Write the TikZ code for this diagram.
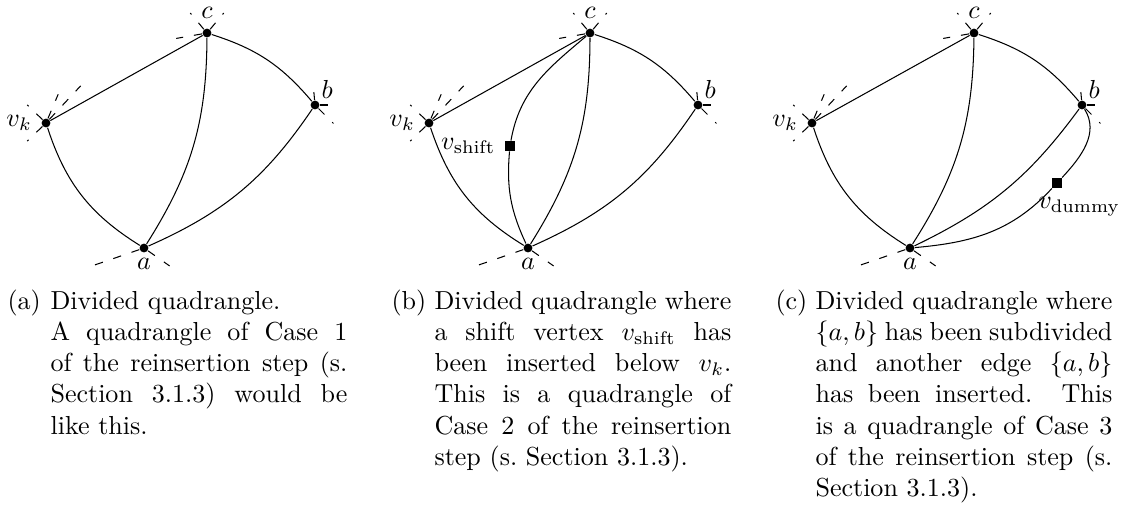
\documentclass[tikz,border=0pt]{standalone}
\usepackage{amsmath}
\usepackage{tikz}
\tikzset{
    quadvertex/.style={circle, fill=black, inner sep=0pt, minimum size=3.4pt},
    quaddummy/.style={rectangle, fill=black, inner sep=0pt, minimum size=3.8pt},
    quadstub/.style={dash pattern=on 3.2pt off 4.2pt},
    quadcaption/.style={anchor=base west, inner sep=0pt}
}

\begin{document}
\begin{tikzpicture}[x=0.384pt, y=-0.384pt]
    \useasboundingbox (0,0) rectangle (1128,509);

    % (a) divided quadrangle
    \node[quadvertex, label=left:$v_k$] (vk1) at (46,123) {};
    \node[quadvertex, label=above:$c$] (c1) at (207,33) {};
    \node[quadvertex, label={[inner sep=1pt]45:$b$}] (b1) at (315,105) {};
    \node[quadvertex, label={[label distance=-1.5pt]below:$a$}] (a1) at (144,248) {};

    \draw (vk1) -- (c1);
    \draw (vk1) to[bend right=20] (a1);
    \draw (c1) to[bend left=16] (a1);
    \draw (c1) to[bend left=16] (b1);
    \draw (a1) to[bend right=16] (b1);

    \draw[quadstub] (c1) -- ++(130:10pt);
    \draw[quadstub] (c1) -- ++(50:10pt);
    \draw[quadstub] (c1) -- ++(190:12pt);
    \draw[quadstub] (vk1) -- ++(136:10pt);
    \draw[quadstub] (vk1) -- ++(224:10pt);
    \draw[quadstub] (vk1) -- ++(67:12pt);
    \draw[quadstub] (vk1) -- ++(47:19.5pt);
    \draw[quadstub] (b1) -- ++(95:5pt);
    \draw[quadstub] (b1) -- ++(0:5pt);
    \draw[quadstub] (b1) -- ++(-45:10pt);
    \draw[quadstub] (a1) -- ++(199:20pt);
    \draw[quadstub] (a1) -- ++(-35:12pt);

    \node[quadcaption] (capa) at (7,309) {(a)};
    \node[quadcaption] (texta) at (50,309) {\parbox[t]{114pt}{Divided quadrangle.\\
        A quadrangle of Case 1\linebreak of the reinsertion step (s.\linebreak
        Section~3.1.3) would be\linebreak like this.}};

    % (b) with shift vertex
    \node[quadvertex, label=left:$v_k$] (vk2) at (429,123) {};
    \node[quadvertex, label=above:$c$] (c2) at (590,33) {};
    \node[quadvertex, label={[inner sep=1pt]45:$b$}] (b2) at (698,105) {};
    \node[quadvertex, label={[label distance=-1.5pt]below:$a$}] (a2) at (528,248) {};
    \node[quaddummy, label=left:$v_{\text{shift}}$] (shift2) at (510,146) {};

    \draw (vk2) -- (c2);
    \draw (vk2) to[bend right=20] (a2);
    \draw (c2) to[bend left=16] (a2);
    \draw (c2) to[bend left=16] (b2);
    \draw (a2) to[bend right=16] (b2);
    \draw (c2) to[out=-140, in=80] (shift2);
    \draw (shift2) to[out=-95, in=115] (a2);

    \draw[quadstub] (c2) -- ++(130:10pt);
    \draw[quadstub] (c2) -- ++(50:10pt);
    \draw[quadstub] (c2) -- ++(190:12pt);
    \draw[quadstub] (vk2) -- ++(136:10pt);
    \draw[quadstub] (vk2) -- ++(224:10pt);
    \draw[quadstub] (vk2) -- ++(67:12pt);
    \draw[quadstub] (vk2) -- ++(47:19.5pt);
    \draw[quadstub] (b2) -- ++(95:5pt);
    \draw[quadstub] (b2) -- ++(0:5pt);
    \draw[quadstub] (b2) -- ++(-45:10pt);
    \draw[quadstub] (a2) -- ++(199:20pt);
    \draw[quadstub] (a2) -- ++(-35:12pt);

    \node[quadcaption] (capb) at (391,309) {(b)};
    \node[quadcaption] (textb) at (434,309) {\parbox[t]{114pt}{Divided quadrangle where\linebreak
        a shift vertex $v_{\text{shift}}$ has\linebreak been inserted below $v_k$.\linebreak
        This is a quadrangle of\linebreak Case 2 of the reinsertion\linebreak
        step (s.\ Section~3.1.3).}};

    % (c) with dummy vertex on {a,b}
    \node[quadvertex, label=left:$v_k$] (vk3) at (812,123) {};
    \node[quadvertex, label=above:$c$] (c3) at (974,33) {};
    \node[quadvertex, label={[inner sep=1pt]45:$b$}] (b3) at (1082,105) {};
    \node[quadvertex, label={[label distance=-1.5pt]below:$a$}] (a3) at (910,248) {};
    \node[quaddummy, label={[xshift=8.5pt]below:$v_{\text{dummy}}$}] (dummy3) at (1057,183) {};

    \draw (vk3) -- (c3);
    \draw (vk3) to[bend right=20] (a3);
    \draw (c3) to[bend left=16] (a3);
    \draw (c3) to[bend left=16] (b3);
    \draw (a3) to[bend right=14] (b3);
    \draw (a3) to[out=5, in=-133] (dummy3);
    \draw (dummy3) to[out=47, in=-58] (b3);

    \draw[quadstub] (c3) -- ++(130:10pt);
    \draw[quadstub] (c3) -- ++(50:10pt);
    \draw[quadstub] (c3) -- ++(190:12pt);
    \draw[quadstub] (vk3) -- ++(136:10pt);
    \draw[quadstub] (vk3) -- ++(224:10pt);
    \draw[quadstub] (vk3) -- ++(67:12pt);
    \draw[quadstub] (vk3) -- ++(47:19.5pt);
    \draw[quadstub] (b3) -- ++(95:5pt);
    \draw[quadstub] (b3) -- ++(0:5pt);
    \draw[quadstub] (b3) -- ++(-45:10pt);
    \draw[quadstub] (a3) -- ++(199:20pt);
    \draw[quadstub] (a3) -- ++(-35:12pt);

    \node[quadcaption] (capc) at (775,309) {(c)};
    \node[quadcaption] (textc) at (815,309) {\parbox[t]{114pt}{Divided quadrangle where\linebreak
        $\{a,b\}$ has been subdivided\linebreak and another edge $\{a,b\}$\linebreak
        has been inserted. This\linebreak is a quadrangle of Case 3\linebreak
        of the reinsertion step (s.\linebreak Section~3.1.3).}};
\end{tikzpicture}
\end{document}
